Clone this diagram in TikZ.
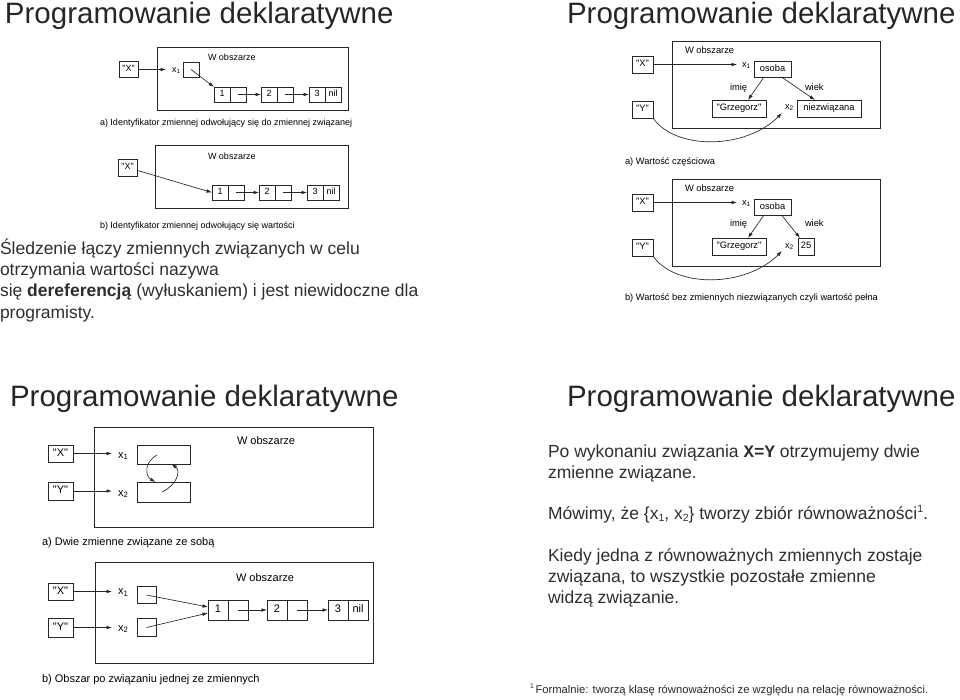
\documentclass[tikz,border=0pt]{standalone}
\usepackage{fontspec}
\setmainfont{Liberation Sans}
\setmonofont{Liberation Mono}
\usetikzlibrary{arrows.meta,calc}
\newcommand\qq[1]{\textquotedbl#1\textquotedbl}
\newcommand\mysub[1]{\raisebox{-0.3ex}{\scalebox{0.6}{#1}}}
\newcommand\mysup[1]{\raisebox{0.75ex}{\scalebox{0.6}{#1}}}
\begin{document}
\begin{tikzpicture}[x=1pt,y=-1pt,
  every node/.style={inner sep=0pt, outer sep=0pt},
  ln/.style={line width=0.65pt, draw=black!85},
  ar/.style={ln, -{Latex[length=5.5pt,width=3.6pt]}},
  fa/.style={font=\fontsize{9}{10}\selectfont},
  fb/.style={font=\fontsize{9.3}{11}\selectfont},
  fc/.style={font=\fontsize{11}{13}\selectfont},
  bxa/.style={ln, fa, text height=6.5pt, text depth=1.9pt},
  bxb/.style={ln, fb, text height=6.7pt, text depth=1.9pt},
  bxc/.style={ln, fc, text height=8pt, text depth=2.3pt},
  area/.style={ln},
  cella/.style={bxa, minimum width=16pt, minimum height=15pt},
  cellc/.style={bxc, minimum width=20pt, minimum height=20pt},
  ttl/.style={anchor=base west, font=\fontsize{29.5}{34}\selectfont, text=black!85},
  body/.style={anchor=base west, font=\fontsize{17.5}{21}\selectfont, text=black!82},
  lbl/.style={anchor=base west}
]
\path[use as bounding box] (0,0) rectangle (960,700);

% ===== titles =====
\node[ttl] (t1) at (5,24) {Programowanie deklaratywne};
\node[ttl] (t2) at (567,24) {Programowanie deklaratywne};
\node[ttl] (t3) at (10,406) {Programowanie deklaratywne};
\node[ttl] (t4) at (567,406) {Programowanie deklaratywne};

% ===== top-left a =====
\node[area, minimum width=191pt, minimum height=63pt] (areaA) at (252.5,78.5) {};
\node[lbl, fa] (wA) at (208,60.5) {W obszarze};
\node[bxa, minimum width=19pt, minimum height=16pt] (XA) at (128.5,69.5) {\qq{X}};
\node[lbl, fa] (x1A) at (172,72.3) {x\textsubscript{1}};
\node[cella] (pA) at (191,69.5) {};
\node[cella] (a1l) at (222,94.5) {1};
\node[cella] (a1r) at (238,94.5) {};
\node[cella] (a2l) at (269,94.5) {2};
\node[cella] (a2r) at (285,94.5) {};
\node[cella] (a3l) at (317,94.5) {3};
\node[cella] (a3r) at (333,94.5) {nil};
\draw[ar, shorten >=6pt] (XA.east) -- (XA.east -| x1A.west);
\draw[ar] (pA.center) -- (a1l.north west);
\draw[ar] (a1r.center) -- (a2l.west);
\draw[ar] (a2r.center) -- (a3l.west);
\node[lbl, fa] (capA) at (100,125.5) {a) Identyfikator zmiennej odwołujący się do zmiennej związanej};

% ===== top-left b =====
\node[area, minimum width=193pt, minimum height=63pt] (areaB) at (251.5,176.5) {};
\node[lbl, fa] (wB) at (208,159.5) {W obszarze};
\node[bxa, minimum width=19pt, minimum height=17pt] (XB) at (127.5,167.5) {\qq{X}};
\node[cella] (b1l) at (220,192.5) {1};
\node[cella] (b1r) at (236,192.5) {};
\node[cella] (b2l) at (267,192.5) {2};
\node[cella] (b2r) at (283,192.5) {};
\node[cella] (b3l) at (315,192.5) {3};
\node[cella] (b3r) at (331,192.5) {nil};
\draw[ar] (XB) -- (b1l.west);
\draw[ar] (b1r.center) -- (b2l.west);
\draw[ar] (b2r.center) -- (b3l.west);
\node[lbl, fa] (capB) at (100,228.5) {b) Identyfikator zmiennej odwołujący się wartości};

% ===== left paragraph =====
\begin{scope}
\clip (0,230) rectangle (450,321);
\node[body] (p1) at (0,255) {Śledzenie łączy zmiennych związanych w celu};
\node[body] (p2) at (0,276) {otrzymania wartości nazywa};
\node[body] (p3) at (0,297) {się \textbf{dereferencją} (wyłuskaniem) i jest niewidoczne dla};
\node[body] (p4) at (0,318) {programisty.};
\end{scope}

% ===== top-right a =====
\node[area, minimum width=208pt, minimum height=87pt] (areaC) at (776,84.5) {};
\node[lbl, fb] (wC) at (685,54) {W obszarze};
\node[bxb, minimum width=21pt, minimum height=17pt] (XC) at (642.5,64.5) {\qq{X}};
\node[lbl, fb] (x1C) at (742,67.5) {x\textsubscript{1}};
\node[bxb, minimum width=37pt, minimum height=16pt] (osC) at (772.5,69) {osoba};
\node[lbl, fb] (imC) at (730,90.5) {imię};
\node[lbl, fb] (wkC) at (805,90.5) {wiek};
\node[bxb, minimum width=54pt, minimum height=17pt] (grzC) at (739,108.5) {\qq{Grzegorz}};
\node[lbl, fb] (x2C) at (785,109.5) {x\textsubscript{2}};
\node[bxb, minimum width=64pt, minimum height=17pt] (nzC) at (829,108.5) {niezwiązana};
\node[bxb, minimum width=21pt, minimum height=17pt] (YC) at (642.5,109.5) {\qq{Y}};
\coordinate (x2Cin) at (782,113);
\draw[ar, shorten >=5pt] (XC.east) -- (XC.east -| x1C.west);
\draw[ar] ($(osC.south)+(-8.5,0)$) -- ($(grzC.north)+(9,0)$);
\draw[ar] ($(osC.south)+(9,0)$) -- ($(nzC.north)+(-14,0)$);
\draw[ar] (YC.south east) .. controls (675,150) and (745,150) .. (x2Cin);
\node[lbl, fb] (capC) at (625,164.5) {a) Wartość częściowa};

% ===== top-right b =====
\node[area, minimum width=208pt, minimum height=87pt] (areaD) at (776,222.5) {};
\node[lbl, fb] (wD) at (685,192) {W obszarze};
\node[bxb, minimum width=21pt, minimum height=17pt] (XD) at (642.5,202.5) {\qq{X}};
\node[lbl, fb] (x1D) at (742,205.5) {x\textsubscript{1}};
\node[bxb, minimum width=37pt, minimum height=16pt] (osD) at (772.5,207) {osoba};
\node[lbl, fb] (imD) at (730,226.5) {imię};
\node[lbl, fb] (wkD) at (805,226.5) {wiek};
\node[bxb, minimum width=54pt, minimum height=17pt] (grzD) at (739,246.5) {\qq{Grzegorz}};
\node[lbl, fb] (x2D) at (785,248.5) {x\textsubscript{2}};
\node[bxb, minimum width=16pt, minimum height=17pt] (v25) at (806,246.5) {25};
\node[bxb, minimum width=21pt, minimum height=17pt] (YD) at (642.5,247.5) {\qq{Y}};
\coordinate (x2Din) at (782,251);
\draw[ar, shorten >=5pt] (XD.east) -- (XD.east -| x1D.west);
\draw[ar] ($(osD.south)+(-8.5,0)$) -- ($(grzD.north)+(9,0)$);
\draw[ar] ($(osD.south)+(9,0)$) -- ($(v25.north)+(-6,0)$);
\draw[ar] (YD.south east) .. controls (675,288) and (745,288) .. (x2Din);
\node[lbl, fb] (capD) at (625,300.5) {b) Wartość bez zmiennych niezwiązanych czyli wartość pełna};

% ===== bottom-left a =====
\node[area, minimum width=279pt, minimum height=100pt] (areaE) at (233.5,477) {};
\node[lbl, fc] (wE) at (237,444) {W obszarze};
\node[bxc, minimum width=25pt, minimum height=17pt] (XE) at (60.5,453.5) {\qq{X}};
\node[bxc, minimum width=25pt, minimum height=18pt] (YE) at (60.5,491) {\qq{Y}};
\node[lbl, fc] (x1E) at (118,458) {x\textsubscript{1}};
\node[lbl, fc] (x2E) at (118,496) {x\textsubscript{2}};
\node[ln, minimum width=53pt, minimum height=19pt] (upE) at (163.5,454.5) {};
\node[ln, minimum width=53pt, minimum height=20pt] (loE) at (163.5,492) {};
\coordinate (cE1) at (157,455);
\coordinate (cE2) at (162,492);
\draw[ar, shorten >=6pt] (XE.east) -- (XE.east -| x1E.west);
\draw[ar, shorten >=6pt] (YE.east) -- (YE.east -| x2E.west);
\draw[ar] (cE1) .. controls (144,462) and (145,476) .. ($(loE.north)+(-8,0)$);
\draw[ar] (cE2) .. controls (177,485) and (181,471) .. ($(upE.south)+(8,0)$);
\node[lbl, fc] (capE) at (42,545) {a) Dwie zmienne związane ze sobą};

% ===== bottom-left b =====
\node[area, minimum width=278pt, minimum height=101pt] (areaF) at (234,612.5) {};
\node[lbl, fc] (wF) at (236,581) {W obszarze};
\node[bxc, minimum width=25pt, minimum height=17pt] (XF) at (60.5,591.5) {\qq{X}};
\node[bxc, minimum width=25pt, minimum height=19pt] (YF) at (60.5,627.5) {\qq{Y}};
\node[lbl, fc] (x1F) at (118,594.5) {x\textsubscript{1}};
\node[lbl, fc] (x2F) at (118,631) {x\textsubscript{2}};
\node[ln, minimum width=19pt, minimum height=17pt] (bx1) at (146.5,595) {};
\node[ln, minimum width=19pt, minimum height=18pt] (bx2) at (146.5,627.5) {};
\node[cellc] (c1l) at (218,610) {1};
\node[cellc] (c1r) at (238,610) {};
\node[cellc] (c2l) at (277,610) {2};
\node[cellc] (c2r) at (297,610) {};
\node[cellc] (c3l) at (338,610) {3};
\node[cellc] (c3r) at (358,610) {nil};
\draw[ar, shorten >=6pt] (XF.east) -- (XF.east -| x1F.west);
\draw[ar, shorten >=6pt] (YF.east) -- (YF.east -| x2F.west);
\draw[ar] (bx1.center) -- ($(c1l.west)+(0,-3)$);
\draw[ar] (bx2.center) -- ($(c1l.west)+(0,3)$);
\draw[ar] (c1r.center) -- (c2l.west);
\draw[ar] (c2r.center) -- (c3l.west);
\node[lbl, fc] (capF) at (42,682) {b) Obszar po związaniu jednej ze zmiennych};

% ===== bottom-right text =====
\node[body] (r1) at (548,457) {Po wykonaniu związania \texttt{\textbf{X=Y}} otrzymujemy dwie};
\node[body] (r2) at (548,478) {zmienne związane.};
\node[body] (r3) at (548,519) {Mówimy, że \{x\mysub{1}, x\mysub{2}\} tworzy zbiór równoważności\mysup{1}.};
\node[body] (r4) at (548,561) {Kiedy jedna z równoważnych zmiennych zostaje};
\node[body] (r5) at (548,582) {związana, to wszystkie pozostałe zmienne};
\node[body] (r6) at (548,603) {widzą związanie.};
\node[anchor=base west, font=\fontsize{11.2}{13}\selectfont, text=black!85] (fn) at (530,693) {\mysup{1}\,Formalnie: tworzą klasę równoważności ze względu na relację równoważności.};
\end{tikzpicture}
\end{document}
